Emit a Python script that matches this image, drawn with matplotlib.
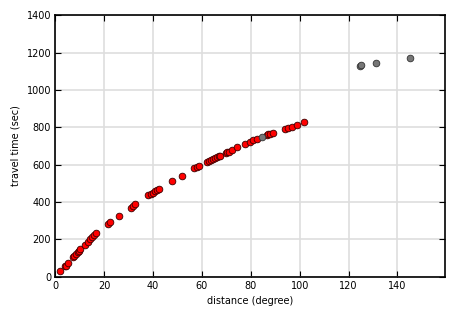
import numpy as np
import matplotlib.pyplot as plt

# distance (degree) and travel time (sec) of the picked arrivals
dist_red = [1.8, 3.8, 4.4, 5.2, 7.2, 7.8, 8.3, 9.1, 9.8, 10.3,
            12.2, 13.2, 14.0, 15.0, 15.9, 16.7, 21.4, 22.2, 25.9,
            31.0, 31.7, 32.7, 38.1, 39.0, 39.9, 40.8, 41.5, 42.4,
            47.9, 52.0, 56.9, 57.8, 58.8, 61.9, 63.0, 63.7, 64.6,
            65.3, 66.0, 66.9, 67.4, 69.8, 70.3, 71.2, 72.2, 74.5,
            77.6, 79.6, 81.0, 82.4, 86.5, 87.2, 87.8, 89.2, 94.0,
            95.3, 96.7, 98.8, 101.9]
time_red = [30, 54, 59, 71, 104, 111, 121, 134, 139, 146,
            171, 188, 200, 211, 221, 234, 282, 293, 325,
            370, 380, 389, 436, 441, 450, 461, 464, 468,
            511, 541, 580, 586, 591, 612, 620, 625, 630,
            634, 639, 645, 649, 661, 666, 670, 679, 695,
            710, 724, 733, 740, 758, 762, 765, 772, 792,
            797, 802, 811, 827]

dist_gray = [84.4, 124.7, 125.1, 131.4, 145.3]
time_gray = [749, 1131, 1136, 1145, 1170]

fig = plt.figure(figsize=(4.65, 3.15), dpi=100)
ax = fig.add_axes([0.119, 0.122, 0.838, 0.829])

ax.scatter(dist_red, time_red, s=23, c='red', edgecolors='#3a0000',
           linewidths=0.6, zorder=3)
ax.scatter(dist_gray, time_gray, s=23, c='#777777', edgecolors='#333333',
           linewidths=0.6, zorder=4)

ax.set_xlim(0, 159.5)
ax.set_ylim(0, 1400)
ax.set_xticks(np.arange(0, 141, 20))
ax.set_yticks(np.arange(0, 1401, 200))
ax.grid(True, color='#dedede', linewidth=1.2, zorder=0)
ax.set_axisbelow(True)

ax.tick_params(direction='in', top=True, right=True, length=4,
               width=0.8, labelsize=7, pad=3)
for sp in ax.spines.values():
    sp.set_linewidth(1.2)

ax.set_xlabel('distance (degree)', fontsize=7)
ax.set_ylabel('travel time (sec)', fontsize=7)

plt.savefig('out.png', dpi=100)
